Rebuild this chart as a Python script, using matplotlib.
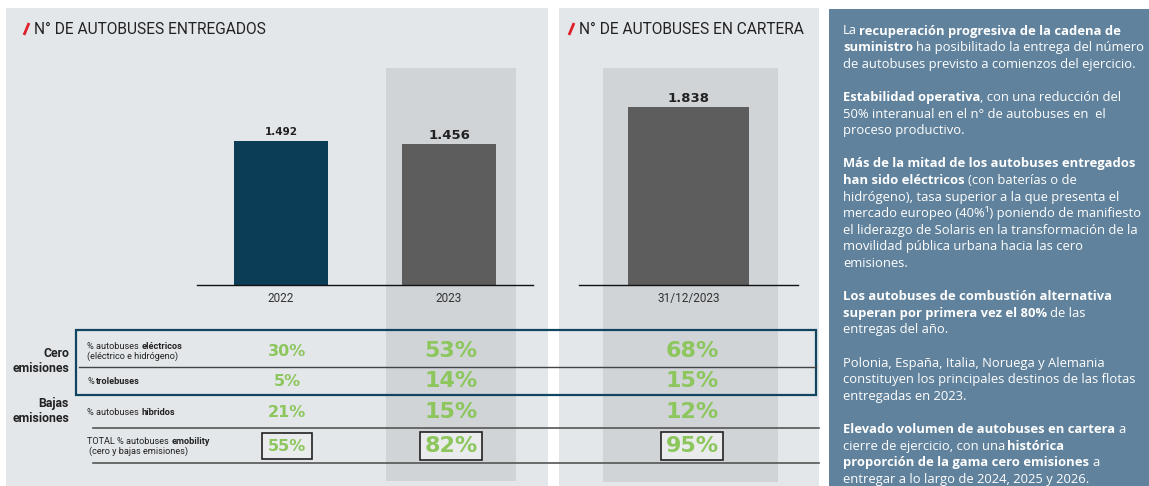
import matplotlib.pyplot as plt
from matplotlib.patches import Rectangle

W, H = 1149, 486

# bar data
years = ["2022", "2023"]
delivered = [1492, 1456]
backlog_date = ["31/12/2023"]
backlog = [1838]

# table data
row_labels = [
    [[("% autobuses ", 0), ("eléctricos", 1)], [("(eléctrico e hidrógeno)", 0)]],
    [[("% ", 0), ("trolebuses", 1)]],
    [[("% autobuses ", 0), ("híbridos", 1)]],
    [[("TOTAL % autobuses ", 0), ("emobility", 1)], [(" (cero y bajas emisiones)", 0)]],
]
pct_2022 = [30, 5, 21, 55]
pct_2023 = [53, 14, 15, 82]
pct_backlog = [68, 15, 12, 95]

# side panel text, one entry per line, None = blank line
side_lines = [
    [("La ", 0), ("recuperación progresiva de la cadena de", 1)],
    [("suministro", 1), (" ha posibilitado la entrega del número", 0)],
    [("de autobuses previsto a comienzos del ejercicio.", 0)],
    None,
    [("Estabilidad operativa", 1), (", con una reducción del", 0)],
    [("50% interanual en el n° de autobuses en  el", 0)],
    [("proceso productivo.", 0)],
    None,
    [("Más de la mitad de los autobuses entregados", 1)],
    [("han sido eléctricos", 1), (" (con baterías o de", 0)],
    [("hidrógeno), tasa superior a la que presenta el", 0)],
    [("mercado europeo (40%¹) poniendo de manifiesto", 0)],
    [("el liderazgo de Solaris en la transformación de la", 0)],
    [("movilidad pública urbana hacia las cero", 0)],
    [("emisiones.", 0)],
    None,
    [("Los autobuses de combustión alternativa", 1)],
    [("superan por primera vez el 80%", 1), (" de las", 0)],
    [("entregas del año.", 0)],
    None,
    [("Polonia, España, Italia, Noruega y Alemania", 0)],
    [("constituyen los principales destinos de las flotas", 0)],
    [("entregadas en 2023.", 0)],
    None,
    [("Elevado volumen de autobuses en cartera", 1), (" a", 0)],
    [("cierre de ejercicio, con una ", 0), ("histórica", 1)],
    [("proporción de la gama cero emisiones", 1), (" a", 0)],
    [("entregar a lo largo de 2024, 2025 y 2026.", 0)],
]

PANEL = "#e3e7ea"
COLUMN = "#d0d4d7"
SIDE = "#60829c"
GREEN = "#8cc65c"
NAVY = "#0b3d56"
GREY = "#5d5d5d"
FONT = ["Roboto", "DejaVu Sans"]
SIDE_FONT = ["Open Sans", "DejaVu Sans"]


def fmt(v):
    return f"{v:,}".replace(",", ".")


fig = plt.figure(figsize=(W / 100, H / 100), dpi=100)
fig.patch.set_facecolor("white")
bg = fig.add_axes([0, 0, 1, 1])
bg.set_xlim(0, W)
bg.set_ylim(H, 0)
bg.axis("off")
renderer = fig.canvas.get_renderer()

# panels and highlight columns
bg.add_patch(Rectangle((6, 8), 542, H - 8, color=PANEL, lw=0))
bg.add_patch(Rectangle((559, 8), 260, H - 8, color=PANEL, lw=0))
bg.add_patch(Rectangle((829, 9), W - 829, H - 9, color=SIDE, lw=0))
bg.add_patch(Rectangle((386, 68), 130, 413, color=COLUMN, lw=0))
bg.add_patch(Rectangle((603, 68), 175, 414, color=COLUMN, lw=0))


def rich(ax, x, y, segs, size, color, family=FONT, va="baseline", reg_gap=1.0):
    tmp1 = ax.text(0, 0, "x x", fontsize=size, family=family)
    tmp2 = ax.text(0, 0, "xx", fontsize=size, family=family)
    sp = (tmp1.get_window_extent(renderer).width
          - tmp2.get_window_extent(renderer).width)
    tmp1.remove()
    tmp2.remove()
    cx = x
    prev_bold = True
    for s, b in segs:
        g = sp if prev_bold else sp * reg_gap
        if s.startswith(" "):
            cx += g
        t = ax.text(cx, y, s.strip(), fontsize=size, family=family,
                    fontweight="bold" if b else "normal", color=color,
                    ha="left", va=va)
        bb = t.get_window_extent(renderer)
        cx = ax.transData.inverted().transform((bb.x1, bb.y0))[0]
        prev_bold = bool(b)
        if s.endswith(" "):
            cx += sp if prev_bold else sp * reg_gap


# titles with red slash
for x0, title in [(23, "N° DE AUTOBUSES ENTREGADOS"), (568, "N° DE AUTOBUSES EN CARTERA")]:
    bg.plot([x0 + 1, x0 + 6], [35, 23], color="#e0202a", lw=2, solid_capstyle="butt")
    bg.text(x0 + 11, 30, title, fontsize=11.2, family=FONT, color="#222222",
            ha="left", va="center")

# bar charts
ax1 = fig.add_axes([197 / W, (H - 285) / H, 336 / W, 193.6 / H])
ax1.bar(range(len(delivered)), delivered, width=0.56, color=[NAVY, GREY])
ax1.set_xlim(-0.5, len(delivered) - 0.5)
ax2 = fig.add_axes([579 / W, (H - 285) / H, 219 / W, 193.6 / H])
ax2.bar(range(len(backlog)), backlog, width=0.557, color=GREY)
ax2.set_xlim(-0.5, len(backlog) - 0.5)

for ax, labels, vals, sizes in [(ax1, years, delivered, [7.5, 9.5]),
                                (ax2, backlog_date, backlog, [9.5])]:
    ax.set_ylim(0, 2000)
    ax.set_facecolor("none")
    for s in ["top", "left", "right"]:
        ax.spines[s].set_visible(False)
    ax.spines["bottom"].set_color("#111111")
    ax.spines["bottom"].set_linewidth(1)
    ax.set_yticks([])
    ax.set_xticks(range(len(labels)))
    ax.set_xticklabels(labels, fontsize=8.5, family=FONT, color="#333333")
    ax.tick_params(axis="x", length=0, pad=5)
    for i, v in enumerate(vals):
        ax.annotate(fmt(v), (i, v), xytext=(0, 4), textcoords="offset points",
                    ha="center", va="baseline", fontsize=sizes[i],
                    fontweight="bold", family="DejaVu Sans", color="#222222")

# table frame and rules
bg.add_patch(Rectangle((76, 330), 740, 65, fill=False, ec="#0f4560", lw=1.6))
bg.plot([79, 816], [367, 367], color="#444444", lw=1)
bg.plot([93, 819], [428, 428], color="#555555", lw=1.2)
bg.plot([93, 819], [463, 463], color="#555555", lw=1.2)

# group labels
bg.text(69, 361, "Cero\nemisiones", fontsize=8.8, family=FONT, fontweight="bold",
        ha="right", va="center", color="#222222", linespacing=1.2)
bg.text(69, 411, "Bajas\nemisiones", fontsize=8.8, family=FONT, fontweight="bold",
        ha="right", va="center", color="#222222", linespacing=1.2)

# row labels
row_y = [351, 381, 412, 446]
for y, lines in zip(row_y, row_labels):
    if len(lines) == 1:
        rich(bg, 87, y + 3, lines[0], 6.6, "#222222", reg_gap=1.1)
    else:
        rich(bg, 87, y - 2, lines[0], 6.6, "#222222", reg_gap=1.1)
        rich(bg, 87, y + 8, lines[1], 6.6, "#222222", reg_gap=1.1)

# percentages
for cx, vals, size, pad in [(287, pct_2022, 11.5, 0.34), (451, pct_2023, 16, 0.2),
                            (692, pct_backlog, 16, 0.2)]:
    for j, (y, v) in enumerate(zip(row_y, vals)):
        kw = {}
        if j == len(vals) - 1:
            kw["bbox"] = dict(boxstyle=f"square,pad={pad}", fc="#e9ebec",
                              ec="#222222", lw=1.2)
        bg.text(cx, y, f"{v}%", fontsize=size, fontweight="bold",
                family="DejaVu Sans", color=GREEN, ha="center", va="center", **kw)

# side panel text
for n, segs in enumerate(side_lines):
    if segs:
        rich(bg, 843, 30 + 16.6 * n + 4.5, segs, 9.4, "white",
             family=SIDE_FONT, reg_gap=0.6)

fig.savefig("out.png", dpi=100)
